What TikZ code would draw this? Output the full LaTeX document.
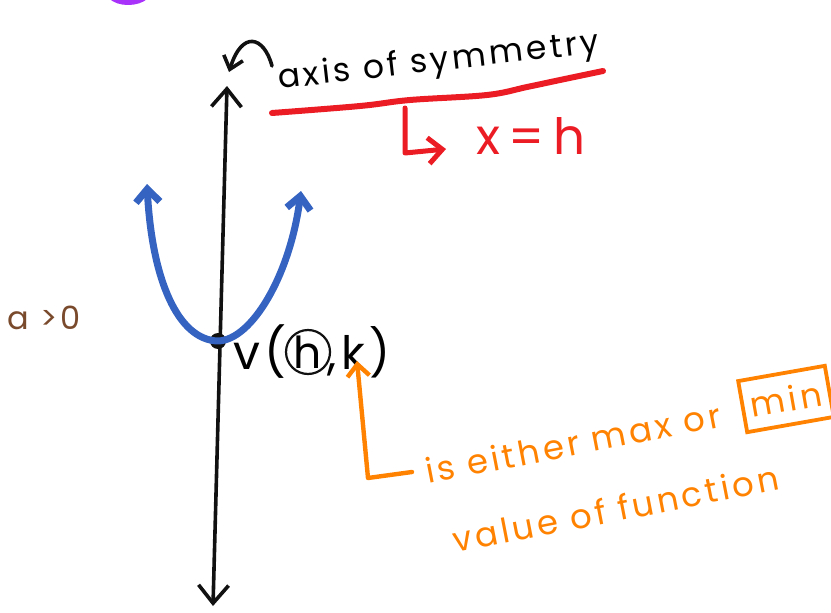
\documentclass[tikz,border=0pt]{standalone}
\usepackage{fontspec}
\setmainfont{Poppins}
\newfontfamily\handfont[LetterSpace=10]{Poppins}
\usetikzlibrary{arrows.meta,positioning}
\definecolor{inkblack}{HTML}{111111}
\definecolor{inkblue}{HTML}{3463C2}
\definecolor{inkred}{HTML}{EC1C24}
\definecolor{inkorange}{HTML}{FF8200}
\definecolor{inkbrown}{HTML}{7A4A2C}
\definecolor{inkpurple}{HTML}{A832FA}
\tikzset{
  pen/.style={line cap=round, line join=round},
  axisline/.style={pen, line width=3.6pt, draw=inkblack,
    {Straight Barb[length=18pt,width=30pt]}-{Straight Barb[length=18pt,width=30pt]}},
  curlarr/.style={pen, line width=3.6pt, draw=inkblack, -{Straight Barb[length=12pt,width=20pt]}},
  parabola/.style={pen, line width=7pt, draw=inkblue,
    {Straight Barb[length=13pt,width=24pt]}-{Straight Barb[length=13pt,width=24pt]}},
  redpen/.style={pen, line width=6pt, draw=inkred},
  redarr/.style={redpen, line width=5pt, -{Straight Barb[length=14pt,width=26pt]}},
  orangearr/.style={pen, line width=4.4pt, draw=inkorange, -{Straight Barb[length=12pt,width=22pt]}},
  handtxt/.style={inner sep=0pt, font=\handfont\fontsize{#1}{#1}\selectfont},
  handtxt/.default=30,
  vdot/.style={circle, fill=inkblack, inner sep=0pt, minimum size=16pt}
}
\begin{document}
\begin{tikzpicture}[x=1pt,y=-1pt]
  \useasboundingbox (0,0) rectangle (831,613);
  % purple scrap at the top edge
  \draw[pen, line width=6pt, draw=inkpurple] (111,-4) .. controls (118,4) and (138,4) .. (146,-4);

  % y axis
  \coordinate (axTop) at (227,86);
  \coordinate (axBot) at (213,606);
  \draw[axisline] (axBot) -- (axTop);

  % label for the axis
  \node[handtxt=33, anchor=base west, rotate=6.5] (symLab) at (279,89) {axis of symmetry};
  \coordinate (curlStart) at (272,66);
  \coordinate (curlEnd) at (229,72);
  \draw[curlarr] (curlStart) .. controls (264,36) and (242,30) .. (curlEnd);
  \draw[redpen] plot[smooth, tension=0.6] coordinates
    {(272,113) (360,106) (410,100) (487,95) (527,87) (560,80) (603,71)};
  \node[handtxt=50, text=inkred] (xeqh) at (531,136) {x\,=\,h};
  \coordinate (redTop) at (405,108);
  \coordinate (redCorner) at (405,153);
  \coordinate (redTip) at (446,149);
  \draw[redarr] (redTop) -- (redCorner) -- (redTip);

  % parabola with a>0
  \node[vdot] (vtx) at (218,341) {};
  \coordinate (parL) at (147,184);
  \coordinate (parR) at (301,191);
  \draw[parabola] (parL) .. controls (152,280) and (178,340) .. (vtx.center)
    .. controls (252,340) and (290,275) .. (parR);
  \node[handtxt=32, text=inkbrown] (aLab) at (44,318) {a >0};

  % vertex label
  \node[handtxt=48, anchor=west] (vOpen) at (233,352) {v(};
  \node[handtxt=44, circle, draw=inkblack, line width=2.2pt, minimum size=44pt,
    right=-2pt of vOpen] (hCirc) {h};
  \node[handtxt=46, anchor=west, right=-4pt of hCirc] (kClose) {,k)};

  % orange note
  \node[handtxt=34, text=inkorange, anchor=base west, rotate=11] (maxOr) at (428,484) {is either max or};
  \node[handtxt=34, text=inkorange, draw=inkorange, line width=3.8pt, rotate=10,
    inner xsep=8pt, inner ysep=13pt] (minBox) at (786,399) {min};
  \node[handtxt=34, text=inkorange, anchor=base west, rotate=11] (valFun) at (455,553) {value of function};
  \coordinate (kTip) at (357,361);
  \coordinate (orCorner) at (368,478);
  \coordinate (orTail) at (412,472);
  \draw[orangearr] (orTail) -- (orCorner) -- (kTip);
\end{tikzpicture}
\end{document}
